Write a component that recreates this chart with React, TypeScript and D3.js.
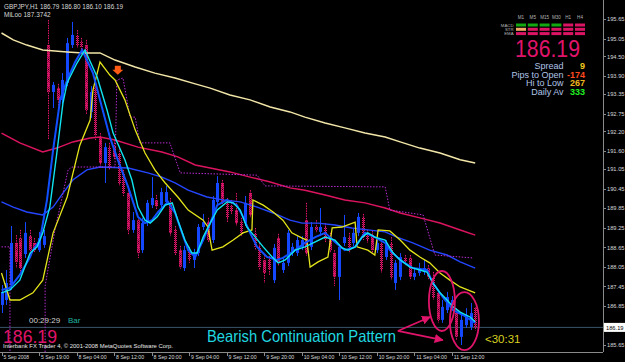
import React from "react";
import * as d3 from "d3";

// ---------- DATA ----------
const opens = [186.88,187.03,187.49,188.78,188.93,188.44,188.99,188.78,188.56,188.72,
 194.85,193.41,193.53,193.17,193.69,194.85,195.16,194.94,194.85,192.80,
 193.53,192.03,191.23,191.72,191.72,191.54,190.93,190.31,189.18,189.48,
 188.56,189.39,189.94,190.10,189.94,190.04,190.01,189.18,188.56,188.01,
 188.56,188.26,188.47,189.27,189.42,188.87,190.04,190.62,190.04,189.91,
 189.79,189.42,189.39,190.31,189.09,188.66,188.26,188.26,187.64,188.93,
 187.95,188.17,188.47,188.47,188.66,189.48,188.66,189.27,189.12,189.27,
 188.96,188.47,187.74,188.78,188.96,188.78,189.09,189.58,189.06,189.02,
 188.56,188.78,188.35,188.78,187.55,187.74,188.32,188.32,187.74,187.86,
 187.89,188.01,187.74,187.25,186.42,186.72,186.88,186.63,185.90,186.26,
 186.20,186.79];
const highs = [187.49,187.95,189.30,189.02,189.18,189.42,189.18,188.93,189.12,189.18,
 195.62,193.72,193.66,193.99,195.07,195.56,195.31,195.07,195.01,193.59,
 193.66,192.15,191.85,191.85,191.94,191.69,191.02,190.40,189.73,189.58,
 189.55,190.10,190.80,190.25,190.47,190.53,190.16,189.30,188.69,188.69,
 188.66,188.60,189.36,189.67,189.55,190.22,190.83,190.71,190.16,190.10,
 190.31,189.55,190.22,190.40,189.24,188.78,188.41,188.38,188.75,189.06,
 188.32,189.18,188.78,188.99,188.99,190.01,189.42,189.48,189.85,189.39,
 189.09,188.56,188.75,189.64,189.09,189.21,189.70,189.67,189.18,189.15,
 188.93,188.87,188.87,188.96,188.26,188.47,188.41,188.41,188.01,188.17,
 188.26,188.10,187.89,187.34,187.03,187.28,187.15,186.78,186.57,186.78,
 186.94,186.80];
const lows = [186.63,186.88,187.34,188.01,187.80,188.32,188.38,188.47,188.50,188.63,
 191.94,192.92,192.86,193.04,193.59,194.76,194.76,194.64,192.71,192.61,
 191.94,191.11,190.62,191.02,191.33,190.53,190.22,189.02,189.09,188.32,
 188.47,189.30,189.85,189.79,189.85,189.94,188.99,188.38,187.98,187.92,
 188.17,188.01,188.38,189.18,188.78,188.78,189.94,189.94,189.42,189.64,
 189.30,188.99,189.30,189.55,188.56,187.95,187.55,187.80,187.55,188.07,
 187.86,188.07,188.38,188.38,188.56,188.38,188.56,189.09,188.99,188.78,
 188.47,187.46,187.03,188.69,188.47,188.69,188.99,188.87,188.78,188.47,
 188.47,187.86,188.26,187.64,187.34,187.64,188.10,187.64,187.64,187.77,
 187.80,187.64,187.03,186.33,186.33,186.63,186.72,185.80,185.65,186.17,
 186.11,186.10];
const closes = [187.28,187.55,188.78,188.20,188.01,189.09,188.56,188.56,188.93,188.99,
 193.41,193.63,193.17,193.78,194.91,195.16,194.85,194.79,192.86,193.41,
 192.09,191.23,191.72,191.11,191.42,190.62,190.31,189.18,189.48,188.47,
 189.39,190.01,190.16,189.91,190.34,190.34,189.09,188.47,188.04,188.56,
 188.26,188.47,189.27,189.42,188.87,190.10,190.62,190.04,189.55,189.73,
 189.39,189.09,190.01,189.64,188.66,188.04,187.86,187.95,188.63,188.17,
 188.17,189.09,188.66,188.87,188.87,188.47,189.27,189.18,189.27,188.87,
 188.56,187.74,188.66,188.96,188.56,189.09,189.58,188.96,188.87,188.56,
 188.78,187.95,188.78,187.74,188.17,188.35,188.20,187.74,187.86,187.95,
 188.01,187.74,187.12,186.42,186.82,187.12,187.03,185.90,186.42,186.57,
 186.63,186.19];

const timeLabels = ["5 Sep 2008","5 Sep 19:00","8 Sep 04:00","8 Sep 12:00","8 Sep 20:00",
 "9 Sep 04:00","9 Sep 12:00","9 Sep 20:00","10 Sep 04:00","10 Sep 12:00","10 Sep 20:00",
 "11 Sep 04:00","11 Sep 12:00"];
const timeLabelBars = [0,8,16,24,32,40,48,56,64,72,80,88,96];
const priceLabels = ["195.65","195.05","194.50","193.90","193.35","192.75","192.20","191.60",
 "191.05","190.45","189.85","189.25","188.65","188.05","187.45","186.85","185.65"];

type P = [number, number];
const creamMA: P[] = [[0,195.22],[2.5,195.01],[5.4,194.85],[8.8,194.70],[14,194.64],[17.4,194.61],[21,194.61],
 [24.2,194.39],[28.5,194.18],[32.7,193.99],[37,193.84],[41.3,193.66],[44.5,193.53],[48.7,193.32],[53,193.17],
 [57.3,192.95],[61.5,192.80],[64.7,192.64],[69,192.46],[73.2,192.31],[77.5,192.15],[81.8,192.03],[85,191.88],
 [89.2,191.69],[93.5,191.54],[97.8,191.33],[101,191.23]];
const crimsonMA: P[] = [[0,192.15],[3.9,191.85],[8.8,191.57],[11.8,191.69],[15.2,191.88],[18.9,192.00],[21,192.03],
 [24.2,191.94],[29.1,191.72],[34.2,191.57],[37.6,191.42],[41.3,191.17],[44.5,191.08],[48.7,190.96],[53,190.80],
 [57.3,190.65],[61.5,190.47],[64.7,190.40],[69,190.25],[73.2,190.10],[77.5,190.01],[81.8,189.85],[85,189.70],
 [89.2,189.55],[93.5,189.39],[97.8,189.18],[101,189.02]];
const slowBlueMA: P[] = [[0,190.04],[2.5,189.88],[5.4,189.73],[8.8,189.64],[11,189.88],[13.1,190.31],[15.2,190.71],
 [18.2,191.02],[21,191.11],[27,191.08],[31.2,190.93],[34.2,190.80],[37,190.62],[39.8,190.40],[43.8,190.19],
 [47.2,190.10],[50.9,190.04],[54.5,189.88],[57.9,189.70],[61.5,189.48],[64.1,189.39],[67.5,189.39],[71.1,189.33],
 [74.7,189.24],[78.1,189.18],[81.8,189.12],[84.3,188.96],[87.7,188.78],[91.3,188.56],[95,188.41],[97.8,188.20],[101,188.01]];
const yellowLine: P[] = [[0,187.86],[1.8,187.03],[3.9,187.03],[6.7,187.25],[8.8,187.64],[11,189.09],[14,190.19],
 [16.7,191.78],[18.9,192.55],[19.5,193.47],[21,194.33],[23.1,193.93],[24.2,193.78],[26.3,193.17],[28.5,192.25],
 [30.6,191.54],[32.7,191.02],[34.9,190.62],[37.6,190.19],[39.8,189.79],[43,189.48],[44,189.27],[44.9,188.56],
 [47.2,188.66],[49.4,188.87],[51.5,189.09],[53.4,189.18],[53.6,190.10],[55.8,189.94],[57.9,189.73],[60,189.48],
 [61.9,189.09],[64.1,188.93],[65.1,188.87],[65.8,188.04],[67.5,188.20],[69.6,188.35],[70.5,189.24],[72.6,189.27],
 [75.4,189.42],[75.8,188.66],[78.1,188.56],[79.6,188.41],[80.3,189.18],[82.8,189.15],[85,188.87],[87.1,188.56],
 [89.2,188.35],[91.3,188.17],[93.5,187.86],[95.6,187.64],[97.8,187.43],[101,187.25]];
const cyanMA: P[] = [[0,187.25],[1.8,187.34],[3.9,187.64],[6.1,188.47],[7.6,188.66],[8.8,189.09],[10.3,189.88],
 [11.8,191.54],[13.1,193.07],[14,193.69],[14.6,193.87],[16.1,194.30],[17.8,194.70],[20.4,193.87],[22.5,192.86],
 [23.8,192.15],[26.3,191.33],[27.8,190.71],[29.1,189.88],[30.6,189.48],[31.7,189.39],[33.2,189.58],[34.9,189.94],
 [36.4,190.01],[37.6,189.48],[39.1,188.87],[40.6,188.47],[41.7,188.47],[43,188.96],[44.5,189.39],[46,189.79],
 [48.1,190.04],[49.4,190.01],[50.9,189.79],[52.3,189.27],[54.1,188.96],[55.8,188.66],[57.7,188.35],[59,188.17],
 [60.5,188.26],[62.6,188.56],[64.7,188.66],[66.9,188.81],[69,188.96],[71.1,188.87],[72.6,188.63],[73.9,188.56],
 [75.4,188.66],[76.9,188.96],[78.1,189.09],[79.6,188.96],[81.8,188.87],[83.5,188.47],[85,188.26],[87.1,188.04],
 [89.2,187.95],[90.7,187.89],[92,187.55],[93.5,187.25],[95,187.03],[96.3,186.82],[97.8,186.66],[99.9,186.51],[101,186.36]];
const blueMA: P[] = [[0,187.34],[1.8,187.40],[3.9,187.80],[6.1,188.35],[6.7,188.56],[8.2,188.87],[9.7,190.10],
 [11,191.63],[12.5,193.17],[14,193.78],[15.7,194.33],[17.2,194.70],[19.5,193.99],[21.4,192.95],[23.1,192.03],
 [24.8,191.33],[27,190.50],[29.1,189.58],[30.6,189.39],[32.1,189.48],[33.4,189.73],[35.5,190.04],[37,189.70],
 [38.5,189.09],[39.8,188.56],[41.3,188.35],[43,188.87],[44.5,189.39],[46,189.94],[48.1,190.10],[50.2,189.94],
 [51.5,189.58],[53,189.09],[54.5,188.66],[56.6,188.35],[58.7,188.26],[60,188.32],[62.6,188.56],[64.7,188.78],
 [66.9,188.96],[69,189.09],[71.1,188.81],[73.2,188.56],[75.4,188.66],[77.5,189.09],[79.6,188.96],[81.8,188.78],
 [82.8,188.56],[85,188.26],[87.7,188.01],[90.7,187.95],[92,187.55],[94.1,187.12],[96.3,186.72],[98.4,186.57],[101,186.33]];
const stopLine: P[] = [[0,188.66],[1.8,188.66],[1.8,185.0],[9.3,185.0],[9.3,187.46],[11.4,189.18],[14.2,191.02],
 [15,191.11],[24.2,191.11],[24.6,193.78],[25.9,193.84],[27.4,192.64],[28.5,192.64],[29.5,191.85],[35.9,191.85],
 [38.1,190.93],[54.5,190.86],[56.2,190.53],[81.8,190.50],[82.8,189.79],[89.9,189.64],[92.4,188.41],[100.5,188.32]];

const lastPrice = 186.19;
const headerText = "GBPJPY,H1  186.79 186.80 186.10 186.19";
const hiloText = "MiLoo  187.3742";
const tfLabels = ["M1","M5","M15","M30","H1","H4"];
const rowLabels = ["MACD","STR","EMA"];
const signalRows = [
  ["up","up","up","up","down","down"],
  ["flat","down","down","down","down","down"],
  ["down","down","down","down","down","down"],
];
const infoLabels = ["Spread","Pips to Open","Hi to Low","Daily Av"];
const infoValues = ["9","-174","267","333"];

// ---------- STYLE ----------
const BULL = "#1448ff";
const BEAR = "#e0146a";
const PW = 603, PH = 352;

export default function App() {
  const x = d3.scaleLinear().domain([0, 101]).range([1.5, 475.2]);
  const y = d3.scaleLinear().domain([185.65, 195.65]).range([345, 19]);
  const line = d3.line<P>().x(d => x(d[0])).y(d => y(d[1]));
  const sigColor: Record<string,string> = { up: "#12a812", down: "#dc1464", flat: "#f4a868" };
  const infoColors = ["#f0c81e", "#ff4a1e", "#f0b41e", "#20f020"];
  const small = "'Liberation Sans', Arial, sans-serif";

  return (
    <svg width={625} height={362} style={{ position: "absolute", left: 0, top: 0, background: "#000" }}
      xmlns="http://www.w3.org/2000/svg">
      <defs>
        <clipPath id="plot"><rect x={0} y={0} width={PW} height={PH} /></clipPath>
        <pattern id="dith" width={2} height={2} patternUnits="userSpaceOnUse">
          <rect x={0} y={0} width={1} height={1} fill={BEAR} />
          <rect x={1} y={1} width={1} height={1} fill={BEAR} />
          <rect x={1} y={0} width={1} height={1} fill="#8a0c40" />
        </pattern>
        <marker id="ah" viewBox="0 0 10 10" refX={9} refY={5} markerWidth={5} markerHeight={5} orient="auto">
          <path d="M0,0 L10,5 L0,10 z" fill={BEAR} />
        </marker>
      </defs>
      <rect x={0} y={0} width={625} height={362} fill="#000" />

      <g clipPath="url(#plot)">
        <line x1={0} x2={PW} y1={y(lastPrice)} y2={y(lastPrice)} stroke="#3a5468" strokeWidth={1} />
        {opens.map((o, i) => {
          const c = closes[i];
          const bull = c >= o;
          const cx = Math.round(x(i)) + 0.5;
          const top = y(Math.max(o, c));
          const bot = y(Math.min(o, c));
          return (
            <g key={i}>
              <line x1={cx} x2={cx} y1={y(highs[i])} y2={y(lows[i])}
                stroke={bull ? BULL : BEAR} strokeWidth={1} strokeDasharray={bull ? undefined : "1.5 1"} />
              <rect x={cx - 1.5} y={top} width={3} height={Math.max(1, bot - top)}
                fill={bull ? BULL : "url(#dith)"} />
            </g>
          );
        })}
        <path d={line(creamMA) || ""} fill="none" stroke="#f2e6a8" strokeWidth={1.5} />
        <path d={line(crimsonMA) || ""} fill="none" stroke="#dc1460" strokeWidth={1.5} />
        <path d={line(slowBlueMA) || ""} fill="none" stroke="#2446ff" strokeWidth={1.4} />
        <path d={line(stopLine) || ""} fill="none" stroke="#b62cd0" strokeWidth={1} strokeDasharray="1.5 1.5" />
        <path d={line(yellowLine) || ""} fill="none" stroke="#e4e41c" strokeWidth={1.3} />
        <path d={line(blueMA) || ""} fill="none" stroke="#1050ff" strokeWidth={2} />
        <path d={line(cyanMA) || ""} fill="none" stroke="#10e4f0" strokeWidth={1.4} />
        <path d={`M${x(24.8) - 3},${y(194.0) - 7} h6 v4 h2.5 l-5.5,5 l-5.5,-5 h2.5 z`} fill="#ff5a14" />
        <ellipse cx={x(93.9)} cy={y(187.0)} rx={13} ry={30} fill="none" stroke={BEAR} strokeWidth={1.8} />
        <ellipse cx={x(98.7)} cy={y(186.38)} rx={14.5} ry={29} fill="none" stroke={BEAR} strokeWidth={1.8} />
        <line x1={x(84.5)} y1={y(186.08)} x2={x(91.4)} y2={y(186.51)} stroke={BEAR} strokeWidth={1.8} markerEnd="url(#ah)" />
        <line x1={x(84.5)} y1={y(186.08)} x2={x(94.1)} y2={y(185.80)} stroke={BEAR} strokeWidth={1.8} markerEnd="url(#ah)" />
      </g>

      <line x1={PW + 0.5} x2={PW + 0.5} y1={0} y2={PH} stroke="#8a8a8a" />
      <line x1={0} x2={PW} y1={PH + 0.5} y2={PH + 0.5} stroke="#8a8a8a" />
      {priceLabels.map(l => (
        <g key={l}>
          <line x1={PW} x2={PW + 3} y1={Math.round(y(+l)) + 0.5} y2={Math.round(y(+l)) + 0.5} stroke="#8a8a8a" />
          <text x={607} y={y(+l) + 2.3} fontSize={6.2} fill="#d8d8d8" fontFamily={small} textLength={17.5} lengthAdjust="spacingAndGlyphs">{l}</text>
        </g>
      ))}
      <rect x={604} y={y(lastPrice) - 4.5} width={21} height={9} fill="#fff" />
      <text x={606} y={y(lastPrice) + 2.3} fontSize={6.2} fill="#000" fontFamily={small} textLength={17.5} lengthAdjust="spacingAndGlyphs">{lastPrice.toFixed(2)}</text>
      {timeLabels.map((l, k) => (
        <g key={l}>
          <line x1={Math.round(x(timeLabelBars[k])) + 0.5} x2={Math.round(x(timeLabelBars[k])) + 0.5} y1={PH} y2={PH + 4} stroke="#8a8a8a" />
          <text x={x(timeLabelBars[k]) + 2} y={359} fontSize={6} fill="#d8d8d8" fontFamily={small}
            textLength={l.length * 2.55} lengthAdjust="spacingAndGlyphs">{l}</text>
        </g>
      ))}

      <text x={4} y={9} fontSize={6.5} fill="#d8d8d8" fontFamily={small} textLength={119} lengthAdjust="spacingAndGlyphs">{headerText}</text>
      <text x={4} y={17} fontSize={6.5} fill="#d8d8d8" fontFamily={small}>{hiloText}</text>

      {tfLabels.map((t, k) => (
        <text key={t} x={521 + k * 11.8} y={18.5} fontSize={4.6} textAnchor="middle" fill="#b4b4b4" fontFamily={small}>{t}</text>
      ))}
      {rowLabels.map((r, j) => (
        <text key={r} x={513.5} y={26.5 + j * 4.2} fontSize={4.3} textAnchor="end" fill="#b4b4b4" fontFamily={small}>{r}</text>
      ))}
      {signalRows.map((row, j) => row.map((s, k) => (
        <rect key={j + "-" + k} x={516 + k * 11.8} y={23.5 + j * 4.3} width={10} height={3} fill={sigColor[s]} />
      )))}
      <text x={515} y={57} fontSize={23} fill="#e0146a" fontFamily={small} textLength={65} lengthAdjust="spacingAndGlyphs">{lastPrice.toFixed(2)}</text>
      {infoLabels.map((l, k) => (
        <g key={l}>
          <text x={563.5} y={69 + k * 8.5} fontSize={9} textAnchor="end" fill="#b0c4e8" fontFamily={small}>{l}</text>
          <text x={585} y={69 + k * 8.5} fontSize={9} fontWeight="bold" textAnchor="end" fill={infoColors[k]} fontFamily={small}>{infoValues[k]}</text>
        </g>
      ))}

      <text x={29} y={323} fontSize={8} fill="#d0d0d0" fontFamily={small}>00:29:29</text>
      <text x={68} y={323} fontSize={8} fill="#20b4a0" fontFamily={small}>Bar</text>
      <text x={3} y={343} fontSize={17.5} fill="#e0146a" fontFamily={small} textLength={54} lengthAdjust="spacingAndGlyphs">{lastPrice.toFixed(2)}</text>
      <text x={3} y={348} fontSize={6} fill="#e8e8e8" fontFamily={small} textLength={170} lengthAdjust="spacingAndGlyphs">Interbank FX Trader 4, © 2001-2008 MetaQuotes Software Corp.</text>

      <text x={207} y={342} fontSize={16.5} fill="#20d8e0" fontFamily={small} textLength={189} lengthAdjust="spacingAndGlyphs">Bearish Continuation Pattern</text>
      <text x={485} y={342.5} fontSize={11.5} fill="#d8d020" fontFamily={small}>&lt;30:31</text>
    </svg>
  );
}
